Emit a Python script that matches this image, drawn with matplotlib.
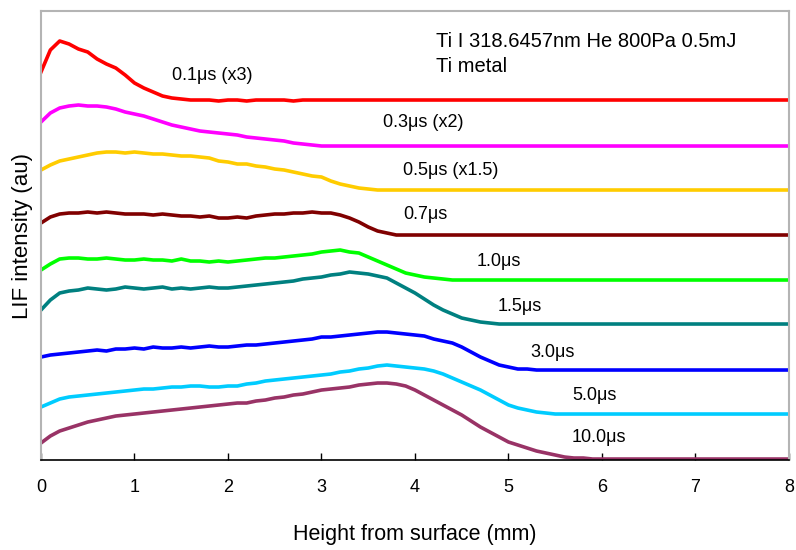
import matplotlib
matplotlib.use("Agg")
import matplotlib.pyplot as plt

plt.rcParams['font.family'] = ['Liberation Sans', 'DejaVu Sans']

# height from surface (mm)
x_mm = [0.0, 0.1, 0.2, 0.3, 0.4, 0.5, 0.6, 0.7, 0.8, 0.9,
        1.0, 1.1, 1.2, 1.3, 1.4, 1.5, 1.6, 1.7, 1.8, 1.9,
        2.0, 2.1, 2.2, 2.3, 2.4, 2.5, 2.6, 2.7, 2.8, 2.9,
        3.0, 3.1, 3.2, 3.3, 3.4, 3.5, 3.6, 3.7, 3.8, 3.9,
        4.0, 4.1, 4.2, 4.3, 4.4, 4.5, 4.6, 4.7, 4.8, 4.9,
        5.0, 5.1, 5.2, 5.3, 5.4, 5.5, 5.6, 5.7, 5.8, 5.9,
        6.0, 6.5, 7.0, 7.5, 8.0]

# LIF intensity (au), curves already offset as in the figure
lif_01 = [388, 410, 419, 416, 411, 408, 401, 396, 392, 385,
          377, 372, 368, 364, 362, 361, 360, 360, 360, 359,
          360, 360, 359, 360, 360, 360, 360, 359, 360, 360,
          360, 360, 360, 360, 360, 360, 360, 360, 360, 360,
          360, 360, 360, 360, 360, 360, 360, 360, 360, 360,
          360, 360, 360, 360, 360, 360, 360, 360, 360, 360,
          360, 360, 360, 360, 360]
lif_03 = [338, 347, 352, 354, 355, 354, 354, 353, 351, 348,
          346, 344, 341, 338, 335, 333, 331, 329, 328, 327,
          326, 325, 323, 322, 321, 320, 319, 317, 316, 315,
          314, 314, 314, 314, 314, 314, 314, 314, 314, 314,
          314, 314, 314, 314, 314, 314, 314, 314, 314, 314,
          314, 314, 314, 314, 314, 314, 314, 314, 314, 314,
          314, 314, 314, 314, 314]
lif_05 = [290, 295, 299, 301, 303, 305, 307, 308, 308, 307,
          308, 307, 306, 306, 305, 304, 304, 303, 302, 299,
          298, 296, 296, 294, 293, 291, 290, 288, 286, 284,
          283, 279, 276, 274, 272, 271, 270, 270, 270, 270,
          270, 270, 270, 270, 270, 270, 270, 270, 270, 270,
          270, 270, 270, 270, 270, 270, 270, 270, 270, 270,
          270, 270, 270, 270, 270]
lif_07 = [237, 243, 246, 247, 247, 248, 247, 248, 247, 246,
          246, 246, 245, 246, 245, 244, 244, 243, 244, 242,
          242, 243, 242, 244, 245, 246, 246, 247, 247, 248,
          247, 247, 245, 242, 238, 233, 229, 227, 225, 225,
          225, 225, 225, 225, 225, 225, 225, 225, 225, 225,
          225, 225, 225, 225, 225, 225, 225, 225, 225, 225,
          225, 225, 225, 225, 225]
lif_10 = [190, 196, 201, 202, 202, 201, 201, 202, 201, 200,
          200, 201, 200, 200, 199, 201, 199, 199, 198, 199,
          198, 199, 200, 201, 202, 202, 203, 204, 205, 206,
          208, 209, 210, 208, 207, 203, 199, 195, 191, 187,
          185, 183, 182, 181, 180, 180, 180, 180, 180, 180,
          180, 180, 180, 180, 180, 180, 180, 180, 180, 180,
          180, 180, 180, 180, 180]
lif_15 = [150, 160, 167, 169, 170, 172, 171, 170, 171, 173,
          172, 171, 172, 173, 171, 172, 171, 172, 173, 172,
          172, 173, 174, 175, 176, 177, 178, 179, 181, 182,
          183, 185, 186, 188, 187, 186, 184, 182, 177, 172,
          167, 161, 155, 150, 146, 142, 140, 138, 137, 136,
          136, 136, 136, 136, 136, 136, 136, 136, 136, 136,
          136, 136, 136, 136, 136]
lif_30 = [103, 105, 106, 107, 108, 109, 110, 109, 111, 111,
          112, 111, 113, 112, 112, 113, 112, 113, 114, 113,
          113, 114, 115, 115, 116, 117, 118, 119, 120, 121,
          123, 123, 124, 125, 126, 127, 128, 128, 127, 126,
          125, 124, 121, 119, 117, 113, 108, 103, 99, 95,
          93, 91, 91, 90, 90, 90, 90, 90, 90, 90,
          90, 90, 90, 90, 90]
lif_50 = [53, 57, 61, 63, 64, 65, 66, 67, 68, 69,
          70, 71, 71, 72, 73, 73, 74, 74, 73, 73,
          74, 74, 76, 77, 79, 80, 81, 82, 83, 84,
          85, 86, 88, 89, 91, 92, 94, 95, 94, 93,
          92, 91, 89, 86, 82, 78, 74, 70, 65, 60,
          55, 52, 50, 48, 47, 46, 46, 46, 46, 46,
          46, 46, 46, 46, 46]
lif_100 = [17, 24, 29, 32, 35, 38, 40, 42, 44, 45,
           46, 47, 48, 49, 50, 51, 52, 53, 54, 55,
           56, 57, 57, 59, 60, 62, 63, 65, 66, 68,
           70, 71, 72, 73, 75, 76, 77, 77, 76, 74,
           70, 65, 60, 55, 50, 45, 39, 33, 28, 23,
           18, 15, 12, 9, 7, 5, 3, 2, 2, 1,
           1, 1, 1, 1, 1]

series = [lif_01, lif_03, lif_05, lif_07, lif_10, lif_15, lif_30, lif_50, lif_100]
labels = ["0.1\u03bcs (x3)", "0.3\u03bcs (x2)", "0.5\u03bcs (x1.5)", "0.7\u03bcs",
          "1.0\u03bcs", "1.5\u03bcs", "3.0\u03bcs", "5.0\u03bcs", "10.0\u03bcs"]
colors = ["#ff0000", "#ff00ff", "#ffcc00", "#800000", "#00ff00",
          "#008080", "#0000ff", "#00ccff", "#993366"]
# label anchor (x in mm, y in au)
label_pos = [(1.40, 385), (3.66, 338), (3.87, 290), (3.87, 246), (4.66, 199),
             (4.88, 154), (5.23, 108), (5.68, 65), (5.68, 23)]

fig = plt.figure(figsize=(7.96, 5.5), dpi=100)
ax = fig.add_axes([0.0515, 0.1636, 0.9397, 0.8164])

for y, c in zip(series, colors):
    ax.plot(x_mm, y, color=c, lw=2.6, solid_joinstyle='round')

for txt, (lx, ly) in zip(labels, label_pos):
    ax.text(lx, ly, txt, fontsize=13, ha='left', va='center')

ax.text(4.22, 419, "Ti I 318.6457nm He 800Pa 0.5mJ", fontsize=14.5, ha='left', va='center')
ax.text(4.22, 394, "Ti metal", fontsize=14.5, ha='left', va='center')

ax.set_xlim(0, 8)
ax.set_ylim(0, 449)
ax.set_xticks(range(0, 9))
ax.set_yticks([])
ax.tick_params(axis='x', direction='in', length=5, width=1, labelsize=13, pad=14)
for s in ['left', 'right', 'top']:
    ax.spines[s].set_color('#b4b4b4')
    ax.spines[s].set_linewidth(1.5)
ax.spines['bottom'].set_color('black')
ax.spines['bottom'].set_linewidth(1.2)

ax.set_xlabel("Height from surface (mm)", fontsize=15.5, labelpad=20)
ax.set_ylabel("LIF intensity (au)", fontsize=16, labelpad=6)

fig.savefig("out.png", dpi=100)
